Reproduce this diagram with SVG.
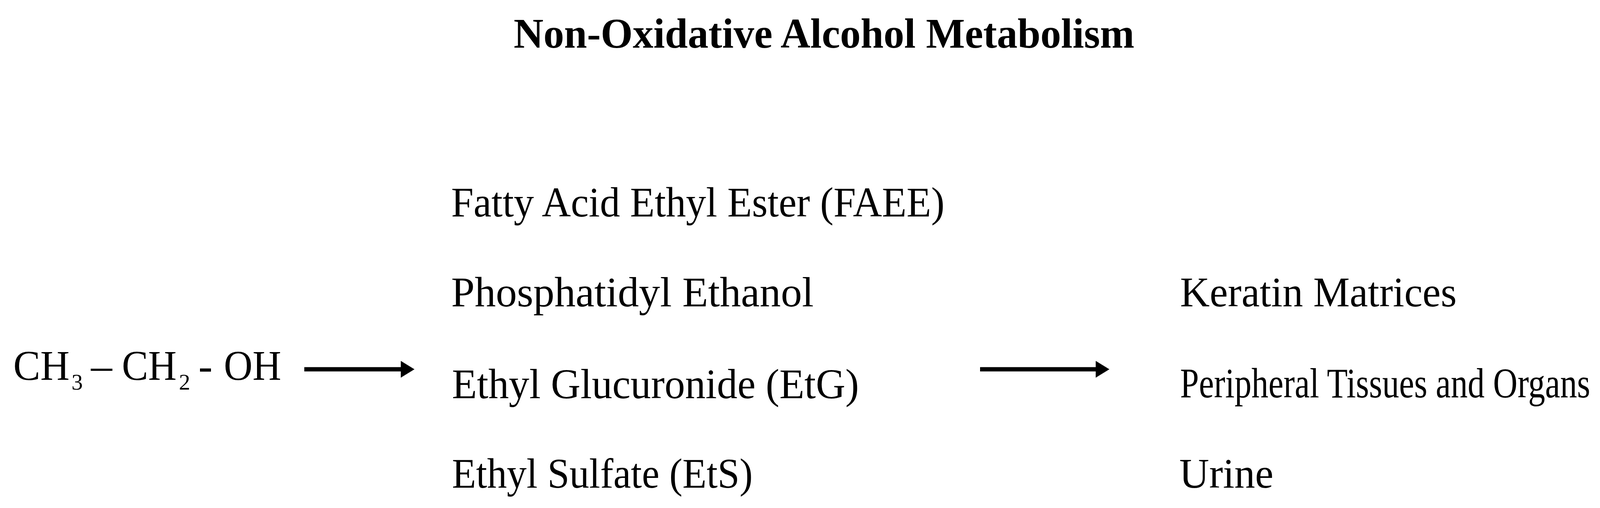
<svg xmlns="http://www.w3.org/2000/svg" width="4345" height="1300" viewBox="0 0 4345 1300">
<style>
  text { font-family: "Liberation Serif", "Times New Roman", serif; fill: #000; }
  .t { font-size: 108px; }
  .title { font-size: 108px; font-weight: bold; }
  .sub { font-size: 58px; }
  .conn { stroke: #000; stroke-width: 11; fill: none; }
</style>
<defs>
  <marker id="arrow" markerUnits="userSpaceOnUse" viewBox="0 0 35 43" markerWidth="35" markerHeight="43" refX="4" refY="21.5" orient="auto">
    <path d="M0,0 L35,21.5 L0,43 Z" fill="#000"/>
  </marker>
</defs>
<rect width="4345" height="1300" fill="#fff"/>

<g id="title">
  <text class="title" x="1315" y="122" textLength="1589" lengthAdjust="spacingAndGlyphs">Non-Oxidative Alcohol Metabolism</text>
</g>

<g id="ethanol">
  <text class="t" x="34" y="972" textLength="144" lengthAdjust="spacingAndGlyphs">CH</text>
  <text class="sub" x="183" y="997">3</text>
  <text class="t" x="233" y="972">–</text>
  <text class="t" x="312" y="972" textLength="140" lengthAdjust="spacingAndGlyphs">CH</text>
  <text class="sub" x="458" y="997">2</text>
  <text class="t" x="508" y="972">-</text>
  <text class="t" x="573" y="972" textLength="147" lengthAdjust="spacingAndGlyphs">OH</text>
</g>

<g id="faee">
  <text class="t" x="1155" y="554" textLength="1263" lengthAdjust="spacingAndGlyphs">Fatty Acid Ethyl Ester (FAEE)</text>
</g>
<g id="peth">
  <text class="t" x="1155" y="784" textLength="928" lengthAdjust="spacingAndGlyphs">Phosphatidyl Ethanol</text>
</g>
<g id="etg">
  <text class="t" x="1157" y="1019" textLength="1042" lengthAdjust="spacingAndGlyphs">Ethyl Glucuronide (EtG)</text>
</g>
<g id="ets">
  <text class="t" x="1157" y="1248" textLength="770" lengthAdjust="spacingAndGlyphs">Ethyl Sulfate (EtS)</text>
</g>

<g id="keratin">
  <text class="t" x="3021" y="784" textLength="708" lengthAdjust="spacingAndGlyphs">Keratin Matrices</text>
</g>
<g id="peripheral">
  <text class="t" x="3021" y="1017" textLength="1050" lengthAdjust="spacingAndGlyphs">Peripheral Tissues and Organs</text>
</g>
<g id="urine">
  <text class="t" x="3019" y="1248" textLength="241" lengthAdjust="spacingAndGlyphs">Urine</text>
</g>

<g id="connectors">
  <line class="conn" x1="779" y1="945" x2="1030" y2="945" marker-end="url(#arrow)"/>
  <line class="conn" x1="2509" y1="945" x2="2809" y2="945" marker-end="url(#arrow)"/>
</g>
</svg>
